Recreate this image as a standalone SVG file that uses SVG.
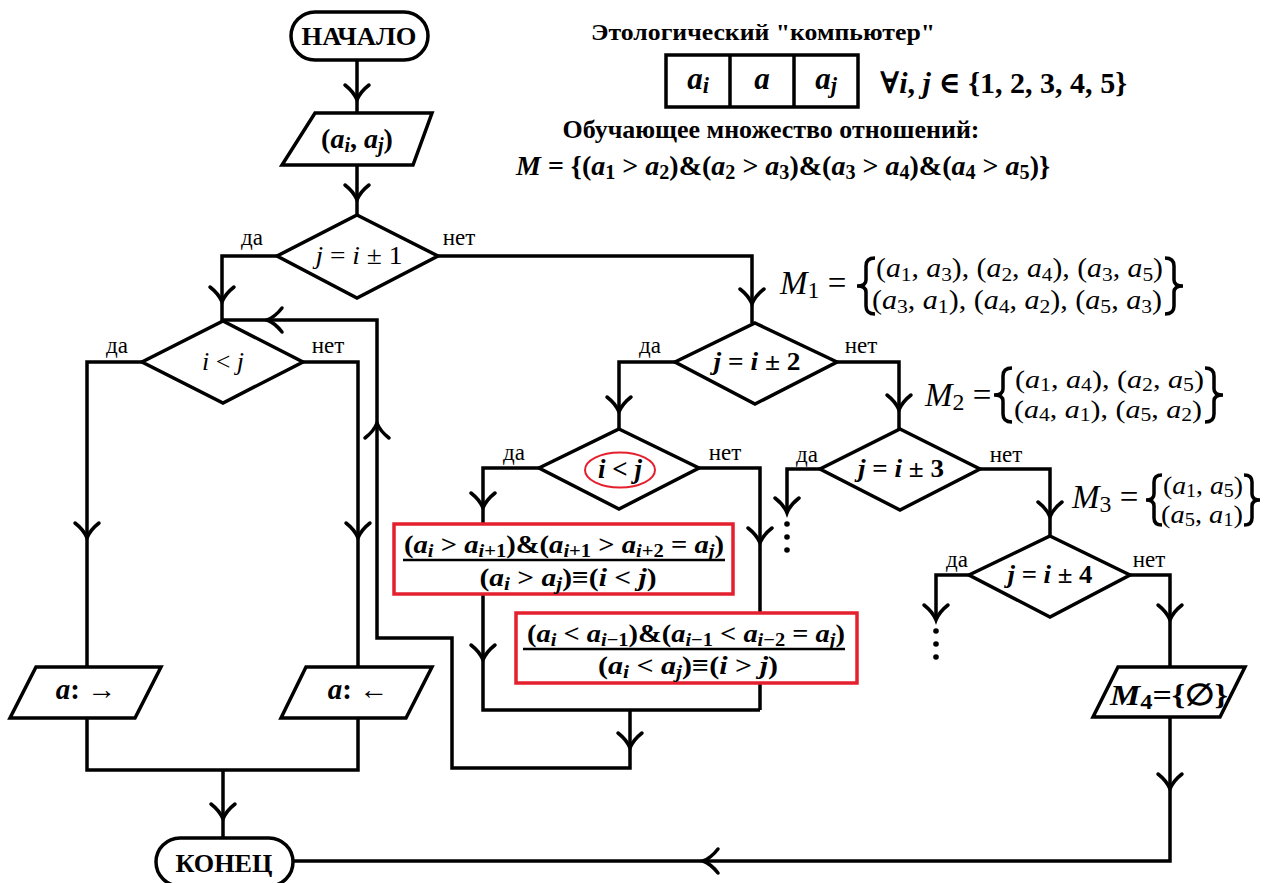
<svg xmlns="http://www.w3.org/2000/svg" xmlns:xlink="http://www.w3.org/1999/xlink" width="1279" height="883" viewBox="0 0 1279 883">
<style>
.ln{fill:none;stroke:#000;stroke-width:3.5;stroke-linejoin:miter}
.sh{fill:#fff;stroke:#000;stroke-width:3.5}
.rb{fill:#fff;stroke:#e5202e;stroke-width:3.5}
.ah{fill:none;stroke:#000;stroke-width:3.5;stroke-linecap:round}
.f{font-family:"Liberation Serif","DejaVu Serif",serif;fill:#000}
.b{font-weight:bold}
.v{font-style:italic}
.s{font-size:72%}
.lbl{font-family:"Liberation Serif","DejaVu Serif",serif;font-size:23px}
.dot{fill:#000}
</style>
<defs>
<path id="ah" d="M-12,-15 Q-3,-8 0,0 Q3,-8 12,-15"/>
</defs>
<rect width="1279" height="883" fill="#fff"/>

<g id="connectors">
<path class="ln" d="M357,60 V113"/>
<path class="ln" d="M357,165 V215"/>
<path class="ln" d="M277,256 H222 V321"/>
<path class="ln" d="M438,256 H752 V323"/>
<path class="ln" d="M142,362 H87 V667"/>
<path class="ln" d="M303,362 H358 V667"/>
<path class="ln" d="M87,718 V770 H358 V718"/>
<path class="ln" d="M223,770 V838"/>
<path class="ln" d="M630,710 V768 H452 V638 H377 V320 H223"/>
<path class="ln" d="M675,362 H619 V429"/>
<path class="ln" d="M837,362 H899 V430"/>
<path class="ln" d="M539,468 H483 V710 H760"/>
<path class="ln" d="M699,468 H760 V710"/>
<path class="ln" d="M820,469 H787 V513"/>
<path class="ln" d="M980,469 H1050 V536"/>
<path class="ln" d="M969,575 H936 V620"/>
<path class="ln" d="M1130,575 H1170 V667"/>
<path class="ln" d="M1170,717 V861 H293"/>
<g class="ah">
<use xlink:href="#ah" transform="translate(357,100)"/>
<use xlink:href="#ah" transform="translate(357,200)"/>
<use xlink:href="#ah" transform="translate(222,302)"/>
<use xlink:href="#ah" transform="translate(752,304)"/>
<use xlink:href="#ah" transform="translate(87,538)"/>
<use xlink:href="#ah" transform="translate(358,538)"/>
<use xlink:href="#ah" transform="translate(223,819)"/>
<use xlink:href="#ah" transform="translate(630,748)"/>
<use xlink:href="#ah" transform="translate(377,423) rotate(180)"/>
<use xlink:href="#ah" transform="translate(267,320) rotate(90)"/>
<use xlink:href="#ah" transform="translate(619,412)"/>
<use xlink:href="#ah" transform="translate(899,410)"/>
<use xlink:href="#ah" transform="translate(483,508)"/>
<use xlink:href="#ah" transform="translate(483,660)"/>
<use xlink:href="#ah" transform="translate(760,543)"/>
<use xlink:href="#ah" transform="translate(787,513)"/>
<use xlink:href="#ah" transform="translate(1050,517)"/>
<use xlink:href="#ah" transform="translate(936,620)"/>
<use xlink:href="#ah" transform="translate(1170,620)"/>
<use xlink:href="#ah" transform="translate(1170,789)"/>
<use xlink:href="#ah" transform="translate(703,861) rotate(90)"/>
</g>
<circle class="dot" cx="787" cy="524" r="2.8"/>
<circle class="dot" cx="787" cy="537" r="2.8"/>
<circle class="dot" cx="787" cy="550" r="2.8"/>
<circle class="dot" cx="936" cy="631" r="2.8"/>
<circle class="dot" cx="936" cy="644" r="2.8"/>
<circle class="dot" cx="936" cy="657" r="2.8"/>
<text class="lbl" x="252" y="245" text-anchor="middle">да</text>
<text class="lbl" x="459" y="245" text-anchor="middle">нет</text>
<text class="lbl" x="117" y="353" text-anchor="middle">да</text>
<text class="lbl" x="328" y="353" text-anchor="middle">нет</text>
<text class="lbl" x="650" y="353" text-anchor="middle">да</text>
<text class="lbl" x="861" y="353" text-anchor="middle">нет</text>
<text class="lbl" x="514" y="460" text-anchor="middle">да</text>
<text class="lbl" x="725" y="460" text-anchor="middle">нет</text>
<text class="lbl" x="807" y="462" text-anchor="middle">да</text>
<text class="lbl" x="1006" y="462" text-anchor="middle">нет</text>
<text class="lbl" x="957" y="567" text-anchor="middle">да</text>
<text class="lbl" x="1149" y="567" text-anchor="middle">нет</text>
</g>

<g id="start">
<rect class="sh" x="291" y="12" width="137" height="48" rx="24"/>
<text class="f b" x="359" y="45" font-size="25" text-anchor="middle" textLength="115" lengthAdjust="spacingAndGlyphs">НАЧАЛО</text>
</g>

<g id="input">
<polygon class="sh" points="315,113 432,113 413,165 282,165"/>
<text class="f b" x="357" y="148" font-size="28" text-anchor="middle">(<tspan class="v">a</tspan><tspan class="s v" dy="4">i</tspan><tspan dy="-4">, </tspan><tspan class="v">a</tspan><tspan class="s v" dy="4">j</tspan><tspan dy="-4">)</tspan></text>
</g>

<g id="d1">
<polygon class="sh" points="357,215 438,256 357,298 277,256"/>
<text class="f" x="359" y="264" font-size="26" text-anchor="middle" textLength="87" lengthAdjust="spacingAndGlyphs"><tspan class="v">j</tspan> = <tspan class="v">i</tspan> ± 1</text>
</g>

<g id="d_left">
<polygon class="sh" points="223,321 303,362 223,403 142,362"/>
<text class="f" x="223" y="370" font-size="26" text-anchor="middle"><tspan class="v">i</tspan> &lt; <tspan class="v">j</tspan></text>
</g>

<g id="out_right">
<polygon class="sh" points="36,667 161,667 135,718 10,718"/>
<text class="f b" x="86" y="699" font-size="29" text-anchor="middle"><tspan class="v">a</tspan>: →</text>
</g>

<g id="out_left">
<polygon class="sh" points="306,667 432,667 406,718 281,718"/>
<text class="f b" x="358" y="699" font-size="29" text-anchor="middle"><tspan class="v">a</tspan>: ←</text>
</g>

<g id="end">
<rect class="sh" x="156" y="838" width="137" height="48" rx="24"/>
<text class="f b" x="224" y="872" font-size="25" text-anchor="middle" textLength="97" lengthAdjust="spacingAndGlyphs">КОНЕЦ</text>
</g>

<g id="d2">
<polygon class="sh" points="755,323 837,362 755,404 675,362"/>
<text class="f b" x="757" y="370" font-size="26" text-anchor="middle" textLength="87" lengthAdjust="spacingAndGlyphs"><tspan class="v">j</tspan> = <tspan class="v">i</tspan> ± 2</text>
</g>

<g id="d_red">
<polygon class="sh" points="619,429 699,468 619,509 539,468"/>
<ellipse cx="620" cy="470" rx="35" ry="17.5" fill="none" stroke="#e5202e" stroke-width="2"/>
<text class="f b" x="620" y="478" font-size="27" text-anchor="middle"><tspan class="v">i</tspan> &lt; <tspan class="v">j</tspan></text>
</g>

<g id="rule1">
<rect class="rb" x="394" y="524" width="339" height="70"/>
<line x1="403" y1="560" x2="725" y2="560" stroke="#000" stroke-width="2.5"/>
<text class="f b" x="564" y="553" font-size="26" text-anchor="middle" textLength="320" lengthAdjust="spacingAndGlyphs">(<tspan class="v">a</tspan><tspan class="s v" dy="4">i</tspan><tspan dy="-4"> &gt; </tspan><tspan class="v">a</tspan><tspan class="s" dy="4"><tspan class="v">i</tspan>+1</tspan><tspan dy="-4">)&amp;(</tspan><tspan class="v">a</tspan><tspan class="s" dy="4"><tspan class="v">i</tspan>+1</tspan><tspan dy="-4"> &gt; </tspan><tspan class="v">a</tspan><tspan class="s" dy="4"><tspan class="v">i</tspan>+2</tspan><tspan dy="-4"> = </tspan><tspan class="v">a</tspan><tspan class="s v" dy="4">j</tspan><tspan dy="-4">)</tspan></text>
<text class="f b" x="568" y="586" font-size="26" text-anchor="middle" textLength="177" lengthAdjust="spacingAndGlyphs">(<tspan class="v">a</tspan><tspan class="s v" dy="4">i</tspan><tspan dy="-4"> &gt; </tspan><tspan class="v">a</tspan><tspan class="s v" dy="4">j</tspan><tspan dy="-4">)≡(</tspan><tspan class="v">i</tspan> &lt; <tspan class="v">j</tspan>)</text>
</g>

<g id="rule2">
<rect class="rb" x="516" y="613" width="341" height="70"/>
<line x1="523" y1="649" x2="845" y2="649" stroke="#000" stroke-width="2.5"/>
<text class="f b" x="686" y="642" font-size="26" text-anchor="middle" textLength="318" lengthAdjust="spacingAndGlyphs">(<tspan class="v">a</tspan><tspan class="s v" dy="4">i</tspan><tspan dy="-4"> &lt; </tspan><tspan class="v">a</tspan><tspan class="s" dy="4"><tspan class="v">i</tspan>−1</tspan><tspan dy="-4">)&amp;(</tspan><tspan class="v">a</tspan><tspan class="s" dy="4"><tspan class="v">i</tspan>−1</tspan><tspan dy="-4"> &lt; </tspan><tspan class="v">a</tspan><tspan class="s" dy="4"><tspan class="v">i</tspan>−2</tspan><tspan dy="-4"> = </tspan><tspan class="v">a</tspan><tspan class="s v" dy="4">j</tspan><tspan dy="-4">)</tspan></text>
<text class="f b" x="688" y="674" font-size="26" text-anchor="middle" textLength="180" lengthAdjust="spacingAndGlyphs">(<tspan class="v">a</tspan><tspan class="s v" dy="4">i</tspan><tspan dy="-4"> &lt; </tspan><tspan class="v">a</tspan><tspan class="s v" dy="4">j</tspan><tspan dy="-4">)≡(</tspan><tspan class="v">i</tspan> &gt; <tspan class="v">j</tspan>)</text>
</g>

<g id="d3">
<polygon class="sh" points="900,429 980,469 900,510 820,469"/>
<text class="f b" x="901" y="477" font-size="26" text-anchor="middle" textLength="86" lengthAdjust="spacingAndGlyphs"><tspan class="v">j</tspan> = <tspan class="v">i</tspan> ± 3</text>
</g>

<g id="d4">
<polygon class="sh" points="1050,536 1130,575 1050,617 969,575"/>
<text class="f b" x="1050" y="583" font-size="26" text-anchor="middle" textLength="85" lengthAdjust="spacingAndGlyphs"><tspan class="v">j</tspan> = <tspan class="v">i</tspan> ± 4</text>
</g>

<g id="m4">
<polygon class="sh" points="1118,667 1245,667 1220,717 1093,717"/>
<text class="f b" x="1169" y="705" font-size="30" text-anchor="middle" textLength="118" lengthAdjust="spacingAndGlyphs"><tspan class="v">M</tspan><tspan class="s" dy="4">4</tspan><tspan dy="-4">={∅}</tspan></text>
</g>

<g id="header">
<text class="f b" x="763" y="40" font-size="23" text-anchor="middle" textLength="344" lengthAdjust="spacingAndGlyphs">Этологический "компьютер"</text>
<rect x="666" y="55" width="192" height="52" fill="#fff" stroke="#000" stroke-width="3.5"/>
<line x1="730" y1="55" x2="730" y2="107" stroke="#000" stroke-width="3.5"/>
<line x1="794" y1="55" x2="794" y2="107" stroke="#000" stroke-width="3.5"/>
<text class="f b" x="698" y="89" font-size="31" text-anchor="middle"><tspan class="v">a</tspan><tspan class="s v" dy="4">i</tspan></text>
<text class="f b" x="762" y="89" font-size="31" text-anchor="middle"><tspan class="v">a</tspan></text>
<text class="f b" x="826" y="89" font-size="31" text-anchor="middle"><tspan class="v">a</tspan><tspan class="s v" dy="4">j</tspan></text>
<text class="f b" x="880" y="93" font-size="30" textLength="247" lengthAdjust="spacingAndGlyphs">∀<tspan class="v">i</tspan>, <tspan class="v">j</tspan> ∈ {1, 2, 3, 4, 5}</text>
<text class="f b" x="771" y="138" font-size="25" text-anchor="middle" textLength="417" lengthAdjust="spacingAndGlyphs">Обучающее множество отношений:</text>
<text class="f b" x="516" y="175" font-size="28" textLength="534"><tspan class="v">M</tspan> = {(<tspan class="v">a</tspan><tspan class="s" dy="4">1</tspan><tspan dy="-4"> &gt; </tspan><tspan class="v">a</tspan><tspan class="s" dy="4">2</tspan><tspan dy="-4">)&amp;(</tspan><tspan class="v">a</tspan><tspan class="s" dy="4">2</tspan><tspan dy="-4"> &gt; </tspan><tspan class="v">a</tspan><tspan class="s" dy="4">3</tspan><tspan dy="-4">)&amp;(</tspan><tspan class="v">a</tspan><tspan class="s" dy="4">3</tspan><tspan dy="-4"> &gt; </tspan><tspan class="v">a</tspan><tspan class="s" dy="4">4</tspan><tspan dy="-4">)&amp;(</tspan><tspan class="v">a</tspan><tspan class="s" dy="4">4</tspan><tspan dy="-4"> &gt; </tspan><tspan class="v">a</tspan><tspan class="s" dy="4">5</tspan><tspan dy="-4">)}</tspan></text>
</g>

<g id="set_m1">
<text class="f" x="780" y="294" font-size="33"><tspan class="v">M</tspan><tspan class="s" dy="4">1</tspan><tspan dy="-4"> =</tspan></text>
<path class="ln" stroke-width="3.5" d="M875,258 Q866,258 866,266 V280 Q866,286 857,286 Q866,286 866,292 V306 Q866,314 875,314"/>
<path class="ln" stroke-width="3.5" d="M1165,258 Q1174,258 1174,266 V280 Q1174,286 1183,286 Q1174,286 1174,292 V306 Q1174,314 1165,314"/>
<text class="f" x="876" y="277" font-size="27" textLength="287" lengthAdjust="spacingAndGlyphs">(<tspan class="v">a</tspan><tspan class="s" dy="4">1</tspan><tspan dy="-4">, </tspan><tspan class="v">a</tspan><tspan class="s" dy="4">3</tspan><tspan dy="-4">), (</tspan><tspan class="v">a</tspan><tspan class="s" dy="4">2</tspan><tspan dy="-4">, </tspan><tspan class="v">a</tspan><tspan class="s" dy="4">4</tspan><tspan dy="-4">), (</tspan><tspan class="v">a</tspan><tspan class="s" dy="4">3</tspan><tspan dy="-4">, </tspan><tspan class="v">a</tspan><tspan class="s" dy="4">5</tspan><tspan dy="-4">)</tspan></text>
<text class="f" x="872" y="309" font-size="27" textLength="290" lengthAdjust="spacingAndGlyphs">(<tspan class="v">a</tspan><tspan class="s" dy="4">3</tspan><tspan dy="-4">, </tspan><tspan class="v">a</tspan><tspan class="s" dy="4">1</tspan><tspan dy="-4">), (</tspan><tspan class="v">a</tspan><tspan class="s" dy="4">4</tspan><tspan dy="-4">, </tspan><tspan class="v">a</tspan><tspan class="s" dy="4">2</tspan><tspan dy="-4">), (</tspan><tspan class="v">a</tspan><tspan class="s" dy="4">5</tspan><tspan dy="-4">, </tspan><tspan class="v">a</tspan><tspan class="s" dy="4">3</tspan><tspan dy="-4">)</tspan></text>
</g>

<g id="set_m2">
<text class="f" x="925" y="406" font-size="33"><tspan class="v">M</tspan><tspan class="s" dy="4">2</tspan><tspan dy="-4"> =</tspan></text>
<path class="ln" stroke-width="3.5" d="M1012,368 Q1003,368 1003,376 V389 Q1003,395 994,395 Q1003,395 1003,401 V414 Q1003,422 1012,422"/>
<path class="ln" stroke-width="3.5" d="M1205,368 Q1214,368 1214,376 V389 Q1214,395 1223,395 Q1214,395 1214,401 V414 Q1214,422 1205,422"/>
<text class="f" x="1015" y="388" font-size="26" textLength="189" lengthAdjust="spacingAndGlyphs">(<tspan class="v">a</tspan><tspan class="s" dy="3">1</tspan><tspan dy="-3">, </tspan><tspan class="v">a</tspan><tspan class="s" dy="3">4</tspan><tspan dy="-3">), (</tspan><tspan class="v">a</tspan><tspan class="s" dy="3">2</tspan><tspan dy="-3">, </tspan><tspan class="v">a</tspan><tspan class="s" dy="3">5</tspan><tspan dy="-3">)</tspan></text>
<text class="f" x="1014" y="418" font-size="26" textLength="188" lengthAdjust="spacingAndGlyphs">(<tspan class="v">a</tspan><tspan class="s" dy="3">4</tspan><tspan dy="-3">, </tspan><tspan class="v">a</tspan><tspan class="s" dy="3">1</tspan><tspan dy="-3">), (</tspan><tspan class="v">a</tspan><tspan class="s" dy="3">5</tspan><tspan dy="-3">, </tspan><tspan class="v">a</tspan><tspan class="s" dy="3">2</tspan><tspan dy="-3">)</tspan></text>
</g>

<g id="set_m3">
<text class="f" x="1072" y="508" font-size="33"><tspan class="v">M</tspan><tspan class="s" dy="4">3</tspan><tspan dy="-4"> =</tspan></text>
<path class="ln" stroke-width="3.5" d="M1162,475 Q1154,475 1154,482 V494 Q1154,500 1146,500 Q1154,500 1154,506 V518 Q1154,525 1162,525"/>
<path class="ln" stroke-width="3.5" d="M1244,475 Q1252,475 1252,482 V494 Q1252,500 1260,500 Q1252,500 1252,506 V518 Q1252,525 1244,525"/>
<text class="f" x="1163" y="494" font-size="25" textLength="80" lengthAdjust="spacingAndGlyphs">(<tspan class="v">a</tspan><tspan class="s" dy="3">1</tspan><tspan dy="-3">, </tspan><tspan class="v">a</tspan><tspan class="s" dy="3">5</tspan><tspan dy="-3">)</tspan></text>
<text class="f" x="1161" y="523" font-size="25" textLength="82" lengthAdjust="spacingAndGlyphs">(<tspan class="v">a</tspan><tspan class="s" dy="3">5</tspan><tspan dy="-3">, </tspan><tspan class="v">a</tspan><tspan class="s" dy="3">1</tspan><tspan dy="-3">)</tspan></text>
</g>
</svg>
